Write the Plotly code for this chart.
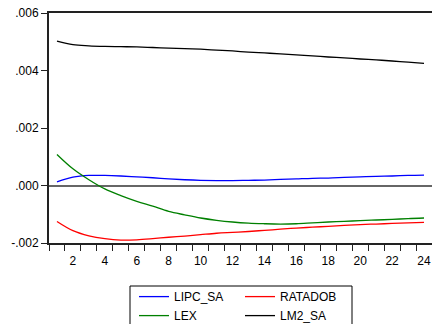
import plotly.graph_objects as go

periods = list(range(1, 25))

lipc_sa = [0.00013, 0.00029, 0.00035, 0.00035, 0.00033, 0.00030, 0.00027, 0.00023,
           0.00020, 0.00018, 0.00017, 0.00017, 0.00018, 0.00019, 0.00021, 0.00023,
           0.00025, 0.00026, 0.00028, 0.00030, 0.00032, 0.00033, 0.00035, 0.00036]

ratadob = [-0.00125, -0.00157, -0.00175, -0.00185, -0.00190, -0.00189, -0.00185, -0.00180,
           -0.00176, -0.00171, -0.00166, -0.00163, -0.00160, -0.00156, -0.00152, -0.00148,
           -0.00145, -0.00142, -0.00139, -0.00136, -0.00134, -0.00132, -0.00130, -0.00128]

lex = [0.00108, 0.00058, 0.00020, -0.00012, -0.00035, -0.00055, -0.00072, -0.00090,
       -0.00102, -0.00113, -0.00121, -0.00127, -0.00131, -0.00133, -0.00134, -0.00133,
       -0.00130, -0.00127, -0.00125, -0.00122, -0.00120, -0.00118, -0.00115, -0.00113]

lm2_sa = [0.00502, 0.00490, 0.00486, 0.00484, 0.00483, 0.00482, 0.00480, 0.00478,
          0.00476, 0.00474, 0.00471, 0.00468, 0.00464, 0.00461, 0.00458, 0.00454,
          0.00451, 0.00447, 0.00444, 0.00440, 0.00437, 0.00433, 0.00429, 0.00425]

y_tickvals = [-0.002, 0.0, 0.002, 0.004, 0.006]
y_ticktext = ["-.002", ".000", ".002", ".004", ".006"]
x_tickvals = list(range(2, 25, 2))
x_minor = [i + 0.5 for i in range(0, 24)]

FONT = "Arial, Liberation Sans, sans-serif"

fig = go.Figure()
fig.add_trace(go.Scatter(x=periods, y=lipc_sa, name="LIPC_SA", mode="lines",
                         line=dict(color="#0000FF", width=1.3), line_shape="spline", legend="legend"))
fig.add_trace(go.Scatter(x=periods, y=lex, name="LEX", mode="lines",
                         line=dict(color="#008000", width=1.3), line_shape="spline", legend="legend"))
fig.add_trace(go.Scatter(x=periods, y=ratadob, name="RATADOB", mode="lines",
                         line=dict(color="#FF0000", width=1.3), line_shape="spline", legend="legend2"))
fig.add_trace(go.Scatter(x=periods, y=lm2_sa, name="LM2_SA", mode="lines",
                         line=dict(color="#000000", width=1.3), line_shape="spline", legend="legend2"))

legend_common = dict(orientation="v", xanchor="left", yanchor="top", y=-0.170,
                     bgcolor="rgba(0,0,0,0)", borderwidth=0,
                     font=dict(family=FONT, size=12, color="#000"),
                     tracegroupgap=0, itemwidth=30)

fig.update_layout(
    width=432, height=324,
    margin=dict(l=49, r=0, t=13, b=81, autoexpand=False),
    paper_bgcolor="white", plot_bgcolor="white",
    font=dict(family=FONT, size=12, color="#000"),
    showlegend=True,
    legend=dict(x=(134 - 49) / 383, **legend_common),
    legend2=dict(x=(240 - 49) / 383, **legend_common),
    xaxis=dict(range=[0.5, 24.5], tickmode="array", tickvals=x_tickvals,
               ticks="outside", ticklen=6, tickcolor="rgba(0,0,0,0)",
               showgrid=False, zeroline=False, automargin=False,
               showline=True, linecolor="#222", linewidth=2, mirror=True,
               minor=dict(tickmode="array", tickvals=x_minor, ticks="outside",
                          ticklen=6, tickcolor="#222", tickwidth=1, showgrid=False),
               tickfont=dict(family=FONT, size=12, color="#000")),
    yaxis=dict(range=[-0.002, 0.006], tickmode="array", tickvals=y_tickvals,
               ticktext=y_ticktext, ticks="outside", ticklen=6, tickcolor="#222",
               showgrid=False, zeroline=True, zerolinecolor="#666", zerolinewidth=1.5,
               showline=True, linecolor="#222", linewidth=2, automargin=False,
               tickfont=dict(family=FONT, size=12, color="#000")),
    shapes=[dict(type="rect", xref="paper", yref="paper",
                 x0=(130 - 49) / 383, x1=(352 - 49) / 383,
                 y0=-0.40, y1=-0.187,
                 line=dict(color="#000", width=1), fillcolor="rgba(0,0,0,0)")],
)

fig.write_html("out.html", config={"displayModeBar": False},
               post_script="document.body.style.margin='0px';document.body.style.overflow='hidden';")
